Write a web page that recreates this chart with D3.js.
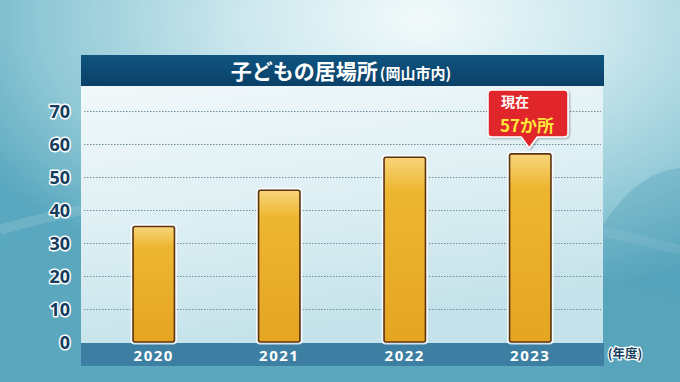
<!DOCTYPE html>
<html><head><meta charset="utf-8">
<script src="https://cdn.jsdelivr.net/npm/d3@7/dist/d3.min.js"></script>
<style>html,body{margin:0;padding:0;overflow:hidden;background:#8fc6d4}</style>
</head><body>
<script>
const years = ["2020","2021","2022","2023"];
const counts = [35, 46, 56, 57];
const yTicks = [0,10,20,30,40,50,60,70];
const titleMain = "子どもの居場所";
const titleSub = "(岡山市内)";
const unitLabel = "(年度)";
const calloutLines = ["現在","57か所"];

const W=680,H=382;
const svg=d3.select("body").append("svg").attr("width",W).attr("height",H)
  .style("font-family","'Noto Sans CJK JP','Noto Sans',sans-serif");
const defs=svg.append("defs");
const bg=defs.append("radialGradient").attr("id","bg").attr("cx","0.62").attr("cy","0.05").attr("r","0.75");
bg.append("stop").attr("offset","0").attr("stop-color","#f2fafb");
bg.append("stop").attr("offset","0.35").attr("stop-color","#cde8ee");
bg.append("stop").attr("offset","0.75").attr("stop-color","#8fc8d6");
bg.append("stop").attr("offset","1").attr("stop-color","#5aa8bf");
const pg=defs.append("linearGradient").attr("id","pg").attr("x1",0).attr("y1",0).attr("x2",0.3).attr("y2",1);
pg.append("stop").attr("offset","0").attr("stop-color","#f1f8fa");
pg.append("stop").attr("offset","0.5").attr("stop-color","#dff0f4");
pg.append("stop").attr("offset","1").attr("stop-color","#c4e2ea");
const bgBar=defs.append("linearGradient").attr("id","barg").attr("x1",0).attr("y1",0).attr("x2",0).attr("y2",1);
bgBar.append("stop").attr("offset","0").attr("stop-color","#f8d57a");
bgBar.append("stop").attr("offset","0.18").attr("stop-color","#edb630");
bgBar.append("stop").attr("offset","1").attr("stop-color","#e5a522");
const tg=defs.append("linearGradient").attr("id","tg").attr("x1",0).attr("y1",0).attr("x2",0).attr("y2",1);
tg.append("stop").attr("offset","0").attr("stop-color","#0f5580");
tg.append("stop").attr("offset","1").attr("stop-color","#0a4068");
const sh=defs.append("filter").attr("id","sh").attr("x","-20%").attr("y","-20%").attr("width","140%").attr("height","140%");
sh.append("feDropShadow").attr("dx",1).attr("dy",1).attr("stdDeviation",1.2).attr("flood-color","#000").attr("flood-opacity",0.35);

svg.append("rect").attr("width",W).attr("height",H).attr("fill","url(#bg)");
// decorative swooshes
svg.append("path").attr("d","M0,250 C150,200 420,215 680,300 L680,382 L0,382Z").attr("fill","#5fa9be").attr("opacity",0.35);
svg.append("path").attr("d","M0,230 C200,170 450,190 680,250").attr("fill","none").attr("stroke","#ffffff").attr("stroke-width",10).attr("opacity",0.12);
svg.append("path").attr("d","M600,230 C630,180 660,170 680,168 L680,382 L600,382Z").attr("fill","#4f9fb8").attr("opacity",0.35);

const plotL=81, plotR=603, plotT=86, base=342;
const x=d3.scaleBand().domain(years).range([91,593]).paddingInner(0.67).paddingOuter(0.335);
const y=d3.scaleLinear().domain([0,70]).range([base,111]);

// plot area
svg.append("rect").attr("x",plotL).attr("y",plotT).attr("width",plotR-plotL).attr("height",base-plotT+1).attr("fill","url(#pg)");
// title bar
svg.append("rect").attr("x",plotL).attr("y",55).attr("width",604-plotL).attr("height",31).attr("fill","url(#tg)");
const tt=svg.append("text").attr("x",341).attr("y",79).attr("text-anchor","middle").attr("fill","#fff").attr("font-weight","bold");
tt.append("tspan").attr("font-size",21).text(titleMain);
tt.append("tspan").attr("font-size",15).attr("dx",2).text(titleSub);

// gridlines
svg.append("g").selectAll("line").data(yTicks.filter(d=>d>0)).join("line")
  .attr("x1",plotL+3).attr("x2",plotR-2).attr("y1",d=>Math.round(y(d))+0.5).attr("y2",d=>Math.round(y(d))+0.5)
  .attr("stroke","#6f8ea0").attr("stroke-width",1).attr("stroke-dasharray","1.5,1.5");

// y axis labels
const ya=svg.append("g").attr("transform","translate(70,0)")
  .call(d3.axisLeft(y).tickValues(yTicks).tickSize(0).tickPadding(0));
ya.select(".domain").remove();
ya.selectAll("text").attr("font-size",18).attr("font-weight","bold").attr("fill","#143d5e")
  .attr("font-family","'Open Sans','Noto Sans',sans-serif")
  .attr("stroke","#ffffff").attr("stroke-width",3).attr("paint-order","stroke").attr("stroke-linejoin","round")
  .attr("dy","0.35em");

// x band
svg.append("rect").attr("x",plotL).attr("y",343).attr("width",604-plotL).attr("height",23).attr("fill","#3d7fa3");
const xa=svg.append("g").attr("transform","translate(0,343)").call(d3.axisBottom(x).tickSize(0).tickPadding(0));
xa.select(".domain").remove();
xa.selectAll("text").attr("y",18).attr("dy",0).attr("font-size",15).attr("font-weight","bold").attr("fill","#ffffff")
  .attr("letter-spacing","1.5px").attr("font-family","'Open Sans','Noto Sans',sans-serif");

svg.append("text").attr("x",625).attr("y",358).attr("text-anchor","middle").attr("font-size",12.5).attr("font-weight","bold")
  .attr("fill","#143d5e").attr("stroke","#fff").attr("stroke-width",2.5).attr("paint-order","stroke").text(unitLabel);

// bars
const bars=svg.append("g").selectAll("g").data(years.map((d,i)=>({year:d,v:counts[i]}))).join("g");
bars.append("rect").attr("x",d=>x(d.year)-1.5).attr("y",d=>y(d.v)-1.5).attr("width",x.bandwidth()+3).attr("height",d=>base-y(d.v)+3)
  .attr("rx",3).attr("fill","none").attr("stroke","#ffffff").attr("stroke-width",2).attr("opacity",0.8);
bars.append("rect").attr("x",d=>x(d.year)).attr("y",d=>y(d.v)).attr("width",x.bandwidth()).attr("height",d=>base-y(d.v))
  .attr("rx",2).attr("fill","url(#barg)").attr("stroke","#5b3310").attr("stroke-width",1.6);

// callout
const cx=x("2023")+x.bandwidth()/2-1;
const cg=svg.append("g").attr("filter","url(#sh)");
cg.append("path").attr("d",`M488,94 Q488,90 492,90 L564,90 Q568,90 568,94 L568,133 Q568,137 564,137 L${cx+8},137 L${cx},148 L${cx-8},137 L492,137 Q488,137 488,133 Z`)
  .attr("fill","#e0282c").attr("stroke","#ffffff").attr("stroke-width",1.5);
svg.append("text").attr("x",501).attr("y",107).attr("fill","#fff").attr("font-size",14).attr("font-weight","bold").text(calloutLines[0]);
svg.append("text").attr("x",500).attr("y",132).attr("fill","#ffe83a").attr("font-size",17).attr("font-weight","bold").text(calloutLines[1]);
</script>
</body></html>
